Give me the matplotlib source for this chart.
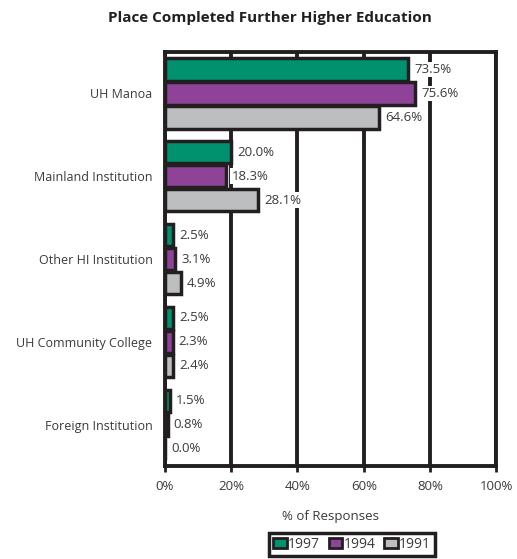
import numpy as np
import matplotlib
matplotlib.use('Agg')
import matplotlib.pyplot as plt

plt.rcParams['font.family'] = ['Open Sans', 'DejaVu Sans']

# datos
categorias = ['UH Manoa', 'Mainland Institution', 'Other HI Institution',
              'UH Community College', 'Foreign Institution']
v1997 = [73.5, 20.0, 2.5, 2.5, 1.5]
v1994 = [75.6, 18.3, 3.1, 2.3, 0.8]
v1991 = [64.6, 28.1, 4.9, 2.4, 0.0]
series = [('1997', v1997, '#00916e'), ('1994', v1994, '#8e4398'), ('1991', v1991, '#bcbec0')]
xticks = [0, 20, 40, 60, 80, 100]
xlabels = ['0%', '20%', '40%', '60%', '80%', '100%']

edge = '#231f20'
txt = '#3a3a3a'

fig = plt.figure(figsize=(5.17, 5.59), dpi=100)
ax = fig.add_axes([0.319, 0.166, 0.641, 0.741])

y = np.arange(len(categorias))
h = 0.29
for i, (nombre, vals, col) in enumerate(series):
    pos = y + (i - 1) * h
    ax.barh(pos, vals, height=h * 0.93, color=col, edgecolor=edge, linewidth=2.5,
            label=nombre, zorder=3)
    for p, v in zip(pos, vals):
        ax.text(v + 1.8, p, f'{v:.1f}%', va='center', ha='left', fontsize=9.5,
                color=txt, zorder=4,
                bbox=dict(boxstyle='square,pad=0.1', fc='white', ec='none'))

ax.set_ylim(len(categorias) - 0.5, -0.5)
ax.set_xlim(0, 100)
ax.set_xticks(xticks)
ax.set_xticklabels(xlabels, fontsize=9.5, color=txt)
ax.set_yticks(y)
ax.set_yticklabels(categorias, fontsize=9, color=txt)
ax.tick_params(axis='y', length=0, pad=9)
ax.tick_params(axis='x', length=4, width=2, color=edge, pad=6)
ax.grid(axis='x', color=edge, linewidth=2.8, zorder=1)
for s in ax.spines.values():
    s.set_linewidth(2.8)
    s.set_color(edge)

ax.set_xlabel('% of Responses', fontsize=9.5, color=txt, labelpad=12)
fig.suptitle('Place Completed Further Higher Education', fontsize=11,
             fontweight='bold', color='#231f20', x=0.522, y=0.98)

leg = fig.legend(loc='center', bbox_to_anchor=(0.681, 0.026), ncol=3, fontsize=10,
                 handlelength=1.0, handleheight=0.7, handletextpad=0.1,
                 columnspacing=0.6, borderpad=0.3, fancybox=False, framealpha=1)
leg.get_frame().set_edgecolor(edge)
leg.get_frame().set_linewidth(2.5)
for t in leg.get_texts():
    t.set_color(txt)
for p in leg.get_patches():
    p.set_linewidth(2)

fig.savefig('out.png', dpi=100)
